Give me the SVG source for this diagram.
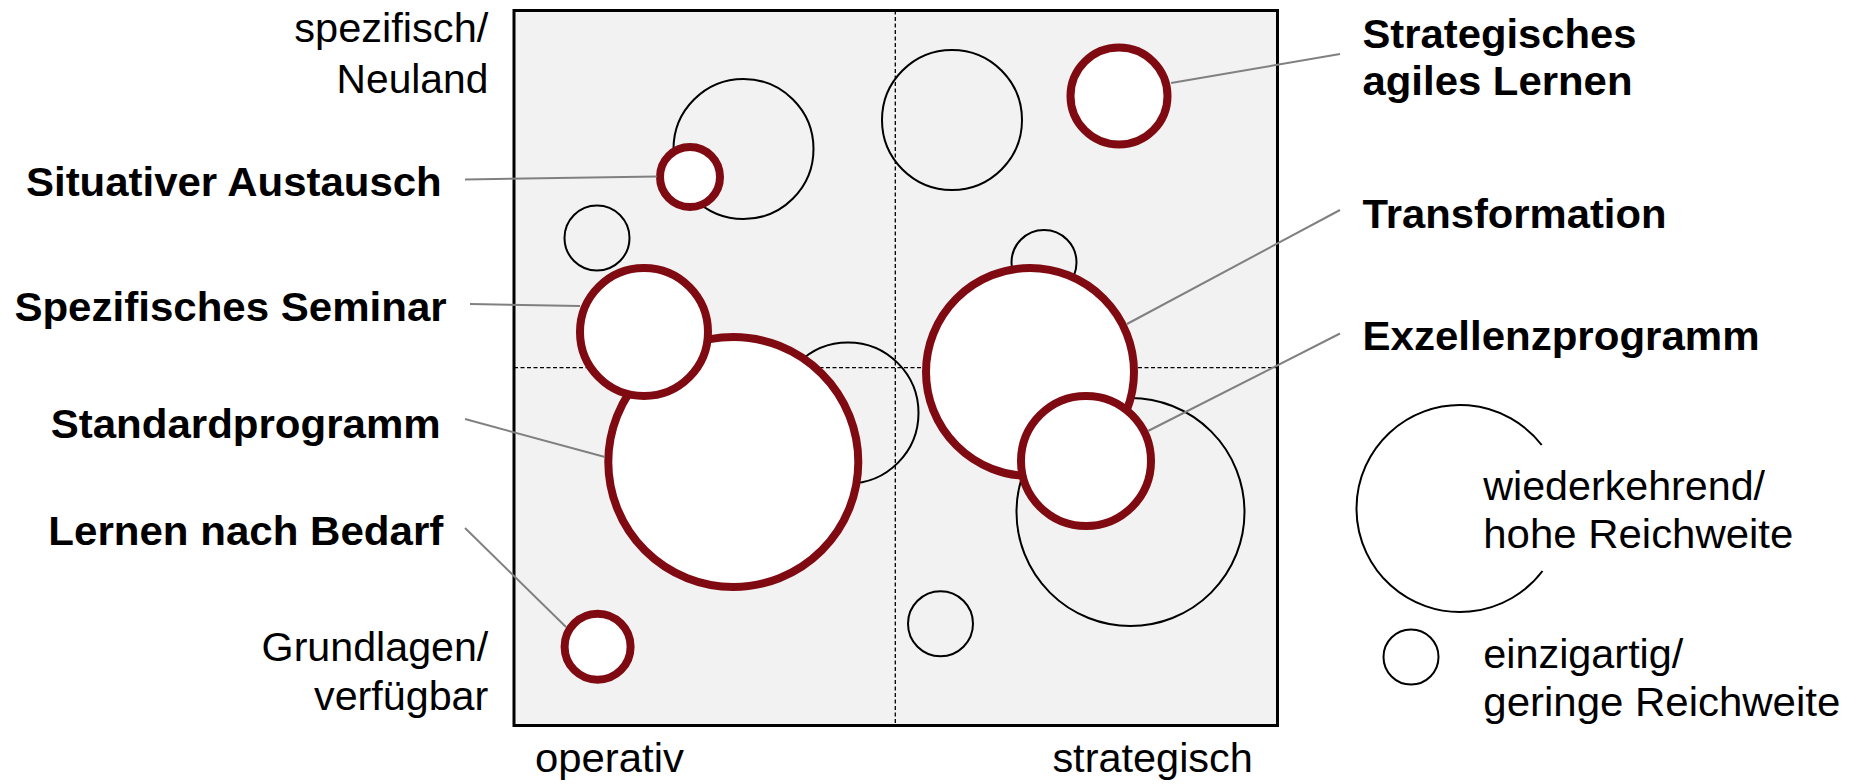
<svg xmlns="http://www.w3.org/2000/svg" width="1863" height="784" viewBox="0 0 1863 784">
<style>
  .t { font-family: "Liberation Sans", Arial, sans-serif; font-size: 40px; fill: #000; }
  .b { font-family: "Liberation Sans", Arial, sans-serif; font-size: 40px; font-weight: bold; fill: #000; }
  .e { text-anchor: end; }
  .red { fill: #fff; stroke: #800a12; stroke-width: 8; }
  .blk { fill: none; stroke: #000; stroke-width: 2; }
  .dash { stroke: #000; stroke-width: 1.3; stroke-dasharray: 4 2.5; fill: none; }
  .conn line { stroke: #808080; stroke-width: 2; }
</style>
<rect width="1863" height="784" fill="#fff"/>

<g id="frame">
  <rect x="514" y="10.5" width="763.5" height="715" fill="#f2f2f2" stroke="none"/>
  <line class="dash" x1="895.3" y1="10.5" x2="895.3" y2="725.5"/>
  <line class="dash" x1="514" y1="367.7" x2="1277.5" y2="367.7"/>
  <rect x="514" y="10.5" width="763.5" height="715" fill="none" stroke="#000" stroke-width="3"/>
</g>

<g id="axis-labels">
  <text class="t e" x="488.3" y="41.7" textLength="194" lengthAdjust="spacingAndGlyphs">spezifisch/</text>
  <text class="t e" x="488.3" y="92.7" textLength="151.7" lengthAdjust="spacingAndGlyphs">Neuland</text>
  <text class="t e" x="488.3" y="660.7" textLength="226.7" lengthAdjust="spacingAndGlyphs">Grundlagen/</text>
  <text class="t e" x="488.3" y="710" textLength="174.3" lengthAdjust="spacingAndGlyphs">verfügbar</text>
  <text class="t" x="535" y="771.7" textLength="149" lengthAdjust="spacingAndGlyphs">operativ</text>
  <text class="t" x="1052.4" y="771.7" textLength="200.5" lengthAdjust="spacingAndGlyphs">strategisch</text>
</g>

<g id="bubble-a"><circle class="blk" cx="743.5" cy="149" r="70"/></g>
<g id="bubble-b"><circle class="blk" cx="952" cy="120" r="70"/></g>
<g id="bubble-c"><circle class="blk" cx="597" cy="238" r="32.5"/></g>
<g id="bubble-d"><circle class="blk" cx="848" cy="413" r="70.5"/></g>
<g id="bubble-e"><circle class="blk" cx="1044" cy="262.5" r="32.5"/></g>
<g id="bubble-f"><circle class="blk" cx="1130.5" cy="512" r="114"/></g>
<g id="bubble-g"><circle class="blk" cx="940.5" cy="623.7" r="32.5"/></g>

<g id="situativer-austausch">
  <circle class="red" cx="690" cy="177" r="30"/>
  <text class="b e" x="441.7" y="195.5" textLength="415.7" lengthAdjust="spacingAndGlyphs">Situativer Austausch</text>
</g>
<g id="strategisches-agiles-lernen">
  <circle class="red" cx="1119" cy="96" r="48.5"/>
  <text class="b" x="1362.5" y="47.5" textLength="274" lengthAdjust="spacingAndGlyphs">Strategisches</text>
  <text class="b" x="1362.5" y="95" textLength="270" lengthAdjust="spacingAndGlyphs">agiles Lernen</text>
</g>
<g id="standardprogramm">
  <circle class="red" cx="733.3" cy="462" r="125"/>
  <text class="b e" x="440.7" y="438" textLength="390" lengthAdjust="spacingAndGlyphs">Standardprogramm</text>
</g>
<g id="spezifisches-seminar">
  <circle class="red" cx="644" cy="332" r="64"/>
  <text class="b e" x="446.7" y="320.5" textLength="432.3" lengthAdjust="spacingAndGlyphs">Spezifisches Seminar</text>
</g>
<g id="transformation">
  <circle class="red" cx="1030" cy="372" r="104"/>
  <text class="b" x="1362.5" y="227.5" textLength="304" lengthAdjust="spacingAndGlyphs">Transformation</text>
</g>
<g id="exzellenzprogramm">
  <circle class="red" cx="1086" cy="461" r="65"/>
  <text class="b" x="1362.5" y="350" textLength="397" lengthAdjust="spacingAndGlyphs">Exzellenzprogramm</text>
</g>
<g id="lernen-nach-bedarf">
  <circle class="red" cx="597.6" cy="646.7" r="33"/>
  <text class="b e" x="443.3" y="545" textLength="395" lengthAdjust="spacingAndGlyphs">Lernen nach Bedarf</text>
</g>

<g id="connectors" class="conn">
  <line x1="465" y1="179.5" x2="657" y2="176.5"/>
  <line x1="470" y1="304" x2="580" y2="306"/>
  <line x1="465" y1="419" x2="605" y2="457"/>
  <line x1="465" y1="528" x2="566" y2="627"/>
  <line x1="1171" y1="83" x2="1340" y2="54"/>
  <line x1="1127" y1="324" x2="1340" y2="210"/>
  <line x1="1148" y1="431" x2="1340" y2="333.5"/>
</g>

<g id="legend-large">
  <path class="blk" d="M 1541.7 445 A 103.5 103.5 0 1 0 1542.5 571"/>
  <text class="t" x="1483.3" y="500" textLength="281.7" lengthAdjust="spacingAndGlyphs">wiederkehrend/</text>
  <text class="t" x="1483.3" y="548.3" textLength="310" lengthAdjust="spacingAndGlyphs">hohe Reichweite</text>
</g>
<g id="legend-small">
  <circle class="blk" cx="1411" cy="657" r="27.5"/>
  <text class="t" x="1483.3" y="668.3" textLength="200" lengthAdjust="spacingAndGlyphs">einzigartig/</text>
  <text class="t" x="1483.3" y="715.5" textLength="357" lengthAdjust="spacingAndGlyphs">geringe Reichweite</text>
</g>
</svg>
